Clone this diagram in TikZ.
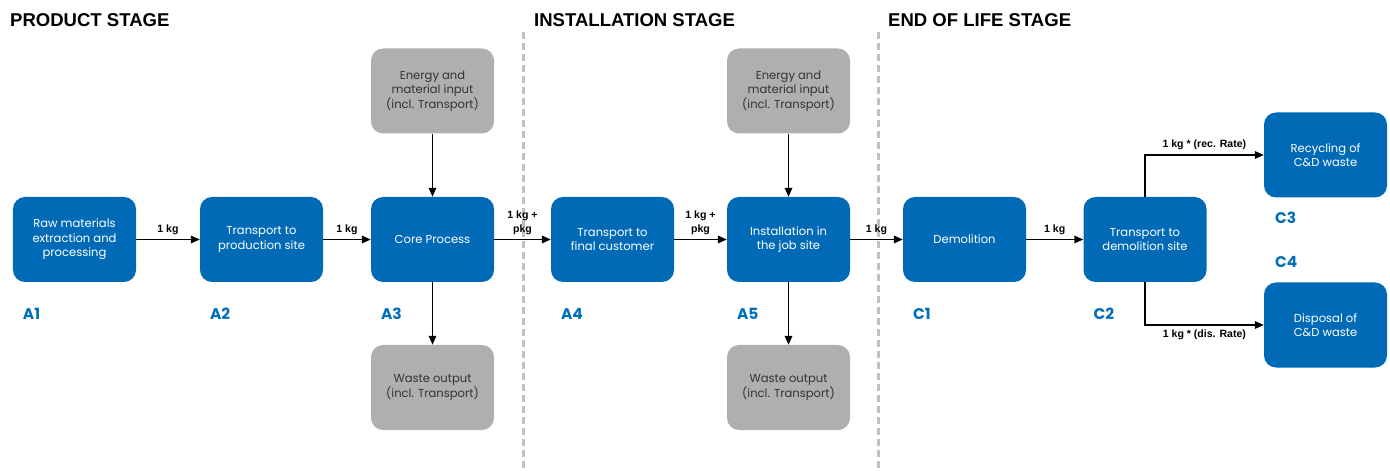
\documentclass[tikz,border=0pt]{standalone}
\usepackage{fontspec}
\setmainfont{Poppins}
\newfontfamily\headfont{Liberation Sans}
\usetikzlibrary{positioning, arrows.meta}

\definecolor{boxblue}{RGB}{0,106,183}
\definecolor{codeblue}{RGB}{0,110,186}
\definecolor{boxgray}{RGB}{175,175,175}
\definecolor{divgray}{RGB}{192,192,192}

\begin{document}
\begin{tikzpicture}[
    x=1bp, y=-1bp,
    process/.style={rectangle, rounded corners=12bp, fill=boxblue, text=white, minimum width=123bp, minimum height=85bp, align=center, inner sep=0pt, font=\fontsize{11.6}{14.5}\selectfont},
    resource/.style={process, fill=boxgray, text=black!80},
    code/.style={anchor=base west, inner sep=0pt, text=codeblue, font=\fontsize{15.5}{17}\selectfont\bfseries},
    heading/.style={anchor=base west, inner sep=0pt, font=\headfont\fontsize{18.6}{20}\selectfont\bfseries},
    amount/.style={align=center, inner sep=1bp, font=\headfont\fontsize{10.6}{14}\selectfont\bfseries},
    divider/.style={divgray, line width=3bp, dash pattern=on 7bp off 4bp},
    flow/.style={-{Triangle[length=9bp, width=7.5bp]}, line width=1.6bp}
]
\useasboundingbox (0,0) rectangle (1390,471);

% Stage headings
\node[heading] (hprod) at (10,27) {PRODUCT STAGE};
\node[heading] (hinst) at (534,27) {INSTALLATION STAGE};
\node[heading] (heol) at (888,27) {END OF LIFE STAGE};

% Stage dividers
\coordinate (d1top) at (523,32);
\coordinate (d1bot) at (523,471);
\coordinate (d2top) at (878,32);
\coordinate (d2bot) at (878,471);
\draw[divider] (d1top) -- (d1bot);
\draw[divider] (d2top) -- (d2bot);

% Main process chain
\foreach \name/\cx/\txt in {a1/74.5/{Raw materials\\extraction and\\processing},
                            a2/261.5/{Transport to\\production site},
                            a3/432.5/{Core Process},
                            a4/612.5/{Transport to\\final customer},
                            a5/788.5/{Installation in\\the job site},
                            c1/964.5/{Demolition},
                            c2/1145/{Transport to\\demolition site}} {
    \node[process] (\name) at (\cx,239.5) {\txt};
}

% Module codes
\foreach \name/\lab in {a1/A1, a2/A2, a3/A3, a4/A4, a5/A5, c1/C1, c2/C2} {
    \node[code] (code\name) at ([shift={(10,37)}]\name.south west) {\lab};
}

% End of life targets
\node[process] (c3) at (1325.5,155) {Recycling of\\C\&D waste};
\node[process] (c4) at (1325.5,325) {Disposal of\\C\&D waste};
\node[code] (codec3) at ([shift={(11,26)}]c3.south west) {C3};
\node[code] (codec4) at ([shift={(11,-15)}]c4.north west) {C4};

% Inputs and outputs
\foreach \i in {3,5} {
    \node[resource] (in\i) at (a\i |- 0,91) {Energy and\\material input\\(incl. Transport)};
    \node[resource] (out\i) at (a\i |- 0,387.5) {Waste output\\(incl. Transport)};
    \draw[flow] (in\i) -- (a\i);
    \draw[flow] (a\i) -- (out\i);
}

% Mass flows
\draw[flow] (a1) -- node[amount, above=3bp] {1 kg} (a2);
\draw[flow] (a2) -- node[amount, above=3bp] {1 kg} (a3);
\draw[flow] (a3) -- node[amount, above=3bp] {1 kg +\\pkg} (a4);
\draw[flow] (a4) -- node[amount, above=3bp] {1 kg +\\pkg} (a5);
\draw[flow] (a5) -- node[amount, above=3bp] {1 kg} (c1);
\draw[flow] (c1) -- node[amount, above=3bp] {1 kg} (c2);
\draw[flow] (c2.north) |- node[amount, pos=0.75, above=3bp] {1 kg * (rec. Rate)} (c3.west);
\draw[flow] (c2.south) |- node[amount, pos=0.75, below=3bp] {1 kg * (dis. Rate)} (c4.west);

\end{tikzpicture}
\end{document}
